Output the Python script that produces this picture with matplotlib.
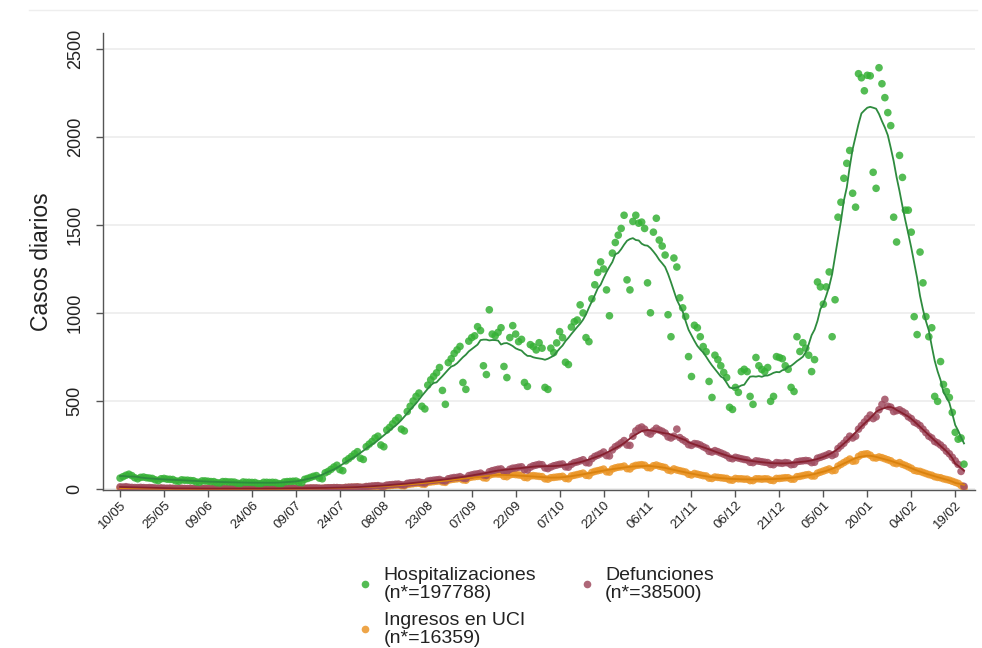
import numpy as np
import pandas as pd
import matplotlib
matplotlib.use("Agg")
import matplotlib.pyplot as plt
import matplotlib.dates as mdates
from matplotlib.lines import Line2D

plt.rcParams['font.family'] = ['Liberation Sans', 'DejaVu Sans']

# casos diarios desde el 10/05/2020 (una fila por semana)
hospitalizaciones = [
    62, 70, 78, 84, 76, 64, 58,
    66, 68, 64, 62, 60, 52, 48,
    58, 60, 56, 55, 54, 46, 44,
    52, 50, 50, 48, 47, 40, 38,
    46, 46, 44, 42, 42, 36, 34,
    42, 42, 40, 40, 39, 33, 31,
    40, 38, 38, 37, 37, 31, 30,
    38, 38, 37, 38, 37, 31, 30,
    40, 42, 43, 44, 45, 38, 36,
    55, 60, 66, 72, 76, 62, 58,
    92, 100, 112, 125, 135, 110, 104,
    160, 172, 185, 200, 212, 175, 168,
    240, 255, 270, 290, 300, 250, 240,
    335, 350, 370, 390, 405, 340, 330,
    440, 470, 500, 526, 545, 470, 455,
    590, 620, 640, 660, 690, 560, 481,
    718, 740, 770, 790, 810, 605, 566,
    840, 860, 870, 922, 900, 700, 650,
    1018, 880, 870, 890, 916, 696, 633,
    860, 928, 880, 837, 850, 605, 583,
    820, 809, 790, 831, 800, 577, 566,
    800, 775, 830, 894, 860, 720, 707,
    920, 950, 960, 1046, 1000, 860, 837,
    1080, 1160, 1230, 1290, 1250, 1131, 984,
    1340, 1400, 1442, 1480, 1555, 1188, 1131,
    1520, 1555, 1510, 1516, 1480, 1171, 1001,
    1459, 1538, 1414, 1380, 1329, 990, 865,
    1312, 1261, 1086, 1029, 980, 752, 639,
    930, 916, 865, 809, 780, 611, 520,
    760, 735, 700, 662, 633, 464, 452,
    577, 549, 667, 680, 667, 526, 481,
    747, 700, 679, 667, 690, 498, 526,
    752, 747, 740, 700, 680, 577, 554,
    865, 781, 831, 800, 760, 667, 735,
    1176, 1148, 1050, 1148, 1233, 865, 1075,
    1544, 1629, 1765, 1850, 1923, 1680, 1601,
    2359, 2336, 2262, 2350, 2347, 1799, 1708,
    2393, 2302, 2223, 2138, 2064, 1544, 1403,
    1895, 1770, 1584, 1584, 1459, 979, 877,
    1346, 1171, 979, 865, 916, 526, 498,
    724, 594, 554, 520, 435, 322, 283,
    290, 141,
]

defunciones = [
    12, 11, 13, 10, 9, 8, 8,
    9, 8, 7, 8, 7, 6, 5,
    6, 5, 4, 5, 4, 3, 3,
    4, 3, 3, 4, 3, 2, 2,
    3, 3, 2, 3, 3, 2, 2,
    3, 2, 3, 3, 2, 2, 2,
    3, 3, 2, 3, 3, 2, 2,
    3, 3, 4, 3, 3, 3, 2,
    4, 4, 4, 5, 4, 3, 3,
    5, 5, 6, 6, 6, 5, 4,
    6, 7, 7, 8, 8, 7, 6,
    9, 10, 11, 11, 12, 10, 10,
    14, 15, 17, 18, 19, 16, 16,
    22, 24, 25, 27, 28, 24, 23,
    32, 35, 36, 38, 40, 36, 34,
    45, 48, 50, 52, 54, 48, 46,
    58, 62, 65, 66, 70, 62, 60,
    76, 80, 84, 86, 90, 80, 78,
    98, 104, 108, 112, 114, 100, 98,
    112, 118, 120, 124, 126, 110, 108,
    124, 132, 136, 140, 138, 120, 116,
    125, 132, 136, 140, 142, 126, 124,
    140, 150, 154, 160, 166, 150, 148,
    172, 185, 192, 200, 210, 190, 188,
    222, 240, 250, 262, 275, 250, 248,
    300, 330, 345, 352, 340, 320, 312,
    330, 345, 335, 328, 318, 296, 290,
    300, 340, 292, 280, 270, 252, 248,
    258, 256, 250, 240, 232, 214, 210,
    218, 212, 205, 198, 190, 176, 172,
    180, 176, 172, 168, 165, 152, 150,
    160, 158, 155, 152, 150, 140, 138,
    150, 148, 146, 150, 148, 138, 140,
    155, 158, 160, 162, 160, 150, 152,
    175, 180, 186, 192, 200, 190, 198,
    230, 245, 260, 280, 300, 290, 300,
    340, 360, 380, 400, 420, 400, 410,
    450, 480, 509, 470, 465, 440, 445,
    450, 440, 430, 410, 400, 380, 372,
    360, 340, 320, 300, 290, 270, 262,
    250, 235, 215, 200, 180, 160, 140,
    100, 15,
]

ingresos_uci = [
    5, 5, 6, 5, 4, 3, 3,
    4, 4, 3, 3, 3, 2, 2,
    3, 2, 2, 2, 2, 1, 1,
    2, 2, 1, 2, 1, 1, 1,
    1, 2, 1, 1, 2, 1, 1,
    2, 1, 1, 2, 1, 1, 1,
    2, 1, 2, 1, 1, 1, 1,
    2, 2, 1, 2, 2, 1, 1,
    2, 2, 3, 2, 3, 2, 2,
    3, 3, 4, 4, 4, 3, 3,
    5, 5, 6, 6, 7, 5, 5,
    8, 9, 9, 10, 11, 9, 8,
    12, 13, 14, 15, 16, 13, 12,
    18, 19, 21, 22, 23, 19, 18,
    26, 28, 30, 32, 33, 28, 27,
    38, 40, 42, 44, 46, 40, 38,
    50, 54, 56, 58, 60, 52, 50,
    64, 68, 70, 72, 74, 64, 62,
    78, 84, 86, 85, 84, 72, 70,
    80, 84, 82, 80, 78, 66, 64,
    74, 76, 74, 72, 70, 58, 56,
    64, 66, 68, 70, 72, 60, 58,
    74, 78, 82, 86, 90, 78, 76,
    94, 100, 104, 108, 113, 98, 96,
    114, 120, 124, 126, 130, 116, 114,
    128, 134, 136, 138, 135, 122, 120,
    132, 136, 130, 126, 122, 108, 104,
    114, 108, 104, 100, 96, 84, 80,
    88, 84, 80, 76, 74, 62, 60,
    68, 66, 64, 62, 60, 52, 50,
    60, 58, 58, 56, 56, 48, 48,
    58, 58, 56, 58, 57, 50, 48,
    60, 60, 62, 64, 64, 56, 56,
    70, 72, 76, 80, 82, 74, 74,
    90, 96, 102, 108, 114, 104, 106,
    130, 140, 150, 160, 170, 158, 160,
    185, 195, 198, 200, 192, 178, 176,
    182, 178, 172, 166, 160, 148, 144,
    150, 140, 134, 126, 118, 106, 102,
    100, 94, 88, 82, 78, 70, 66,
    64, 58, 54, 50, 44, 38, 32,
    20, 5,
]

fechas = pd.date_range('2020-05-10', periods=len(hospitalizaciones), freq='D')

series = [
    ('Hospitalizaciones\n(n*=197788)', hospitalizaciones, '#36b136', '#2e8b3e'),
    ('Defunciones\n(n*=38500)', defunciones, '#a04c60', '#86202f'),
    ('Ingresos en UCI\n(n*=16359)', ingresos_uci, '#eb9628', '#d9820f'),
]

fig = plt.figure(figsize=(9.82, 6.48), dpi=100)
ax = fig.add_axes([0.105, 0.244, 0.888, 0.705])

# orden de dibujo: primero UCI, luego defunciones, encima hospitalizaciones
for nombre, valores, c_punto, c_linea in reversed(series):
    s = pd.Series(valores, index=fechas)
    media = s.rolling(7, center=True, min_periods=1).mean()
    ax.scatter(fechas, s.values, s=30, color=c_punto, alpha=0.85,
               edgecolors='none', zorder=3)
    ax.plot(fechas, media.values, color=c_linea, lw=1.3, zorder=4)

ax.set_ylim(-5, 2590)
ax.set_xlim(fechas[0] - pd.Timedelta(days=5.8), fechas[0] + pd.Timedelta(days=291.8))
ax.set_yticks([0, 500, 1000, 1500, 2000, 2500])
ticks = pd.date_range('2020-05-10', '2021-02-19', freq='15D')
ax.set_xticks(ticks)
ax.xaxis.set_major_formatter(mdates.DateFormatter('%d/%m'))

ax.grid(axis='y', color='#ececec', lw=1.2)
ax.set_axisbelow(True)
for lado in ['top', 'right']:
    ax.spines[lado].set_visible(False)
for lado in ['left', 'bottom']:
    ax.spines[lado].set_color('#555555')
    ax.spines[lado].set_linewidth(1.0)

ax.tick_params(axis='both', colors='#555555', length=5, width=1.0)
ax.tick_params(axis='y', labelsize=13, labelcolor='#222222', pad=9)
ax.tick_params(axis='x', labelsize=9.5, labelcolor='#222222', pad=2)
for lbl in ax.get_yticklabels():
    lbl.set_rotation(90)
    lbl.set_va('center')
for lbl in ax.get_xticklabels():
    lbl.set_rotation(45)
    lbl.set_ha('right')
    lbl.set_rotation_mode('anchor')

ax.set_ylabel('Casos diarios', fontsize=16.5, color='#222222', labelpad=10)

# leyenda debajo del gráfico
handles = [Line2D([], [], ls='none', marker='o', ms=5.5, color=c, alpha=0.85,
                  markeredgecolor='none') for _, _, c, _ in series]
etiquetas = [n for n, _, _, _ in series]
orden = [0, 2, 1]
fig.legend([handles[i] for i in orden], [etiquetas[i] for i in orden],
           loc='upper left', bbox_to_anchor=(0.35, 0.143), ncol=2,
           frameon=False, fontsize=14, handletextpad=0.45, columnspacing=2.1,
           labelspacing=0.5, handlelength=1.0, labelcolor='#222222',
           borderaxespad=0.2)
for t in fig.legends[0].get_texts():
    t.set_linespacing(1.08)

# línea fina superior del área del gráfico
fig.add_artist(Line2D([0.03, 0.995], [1 - 10 / 648, 1 - 10 / 648],
                      color='#eeeeee', lw=1.0))

fig.savefig('out.png', dpi=100, facecolor='white')
